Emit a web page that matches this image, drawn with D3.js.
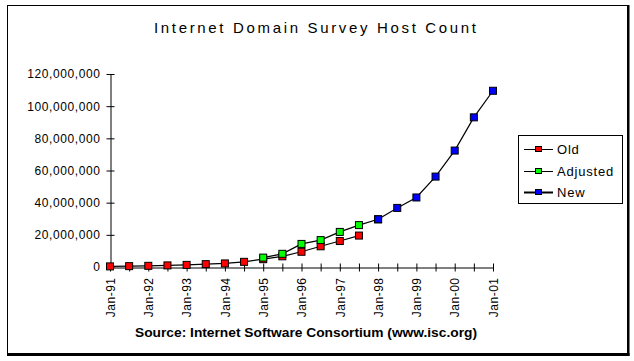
<!DOCTYPE html>
<html><head><meta charset="utf-8">
<script src="https://cdn.jsdelivr.net/npm/d3@7"></script>
<style>body{margin:0;background:#fff}svg{display:block}text{font-family:"Liberation Sans",Arial,sans-serif}</style>
</head><body><svg id="c" width="634" height="361"></svg>
<script>
const periods = ["Jan-91","Jul-91","Jan-92","Jul-92","Jan-93","Jul-93","Jan-94","Jul-94","Jan-95","Jul-95","Jan-96","Jul-96","Jan-97","Jul-97","Jan-98","Jul-98","Jan-99","Jul-99","Jan-00","Jul-00","Jan-01"];
const oldPeriods = ["Jan-91","Jul-91","Jan-92","Jul-92","Jan-93","Jul-93","Jan-94","Jul-94","Jan-95","Jul-95","Jan-96","Jul-96","Jan-97","Jul-97"];
const oldValues = [376000,535000,727000,992000,1313000,1776000,2217000,3212000,4852000,6642000,9472000,12881000,16146000,19540000];
const adjPeriods = ["Jan-95","Jul-95","Jan-96","Jul-96","Jan-97","Jul-97","Jan-98"];
const adjValues = [5846000,8200000,14352000,16729000,21819000,26053000,29670000];
const newPeriods = ["Jan-98","Jul-98","Jan-99","Jul-99","Jan-00","Jul-00","Jan-01"];
const newValues = [29670000,36739000,43230000,56218000,72398000,93047000,109574000];
const yTicks = [0,20000000,40000000,60000000,80000000,100000000,120000000];
const seriesNames = ["Old","Adjusted","New"];
const seriesColors = ["#ff0000","#00ff00","#0000ff"];
const titleText = "Internet Domain Survey Host Count";
const sourceText = "Source: Internet Software Consortium (www.isc.org)";

const svg = d3.select("#c");
// frame
svg.append("rect").attr("x",7.5).attr("y",5.5).attr("width",620).attr("height",348).attr("fill","none").attr("stroke","#000");
svg.append("line").attr("x1",628.5).attr("x2",628.5).attr("y1",5).attr("y2",356).attr("stroke","#000").attr("stroke-width",2);
svg.append("line").attr("x1",7).attr("x2",629.5).attr("y1",354.5).attr("y2",354.5).attr("stroke","#000").attr("stroke-width",3);

const x = d3.scalePoint().domain(periods).range([110,493]);
const y = d3.scaleLinear().domain([0,120000000]).range([267,74]);

svg.append("text").attr("x",154).attr("y",33).attr("textLength",322).attr("lengthAdjust","spacing")
  .attr("font-size",15).text(titleText);

// y axis
const ya = svg.append("g").attr("transform","translate(110.5,0)")
  .call(d3.axisLeft(y).tickValues(yTicks).tickSize(4).tickSizeOuter(0).tickFormat(d3.format(",")));
ya.select(".domain").attr("stroke","#000");
ya.selectAll(".tick line").attr("x1",-4).attr("x2",4).attr("stroke","#000");
ya.selectAll(".tick text").attr("x",-10).attr("font-size",12).attr("letter-spacing",0.6).attr("fill","#000").attr("font-family","Liberation Sans, Arial, sans-serif");

// x axis
const xa = svg.append("g").attr("transform","translate(0,267.5)")
  .call(d3.axisBottom(x).tickSize(4).tickSizeOuter(0).tickFormat(d => d.startsWith("Jan") ? d : ""));
xa.select(".domain").attr("stroke","#000");
xa.selectAll(".tick line").attr("y1",-4).attr("y2",4).attr("stroke","#000");
xa.selectAll(".tick text").attr("transform","rotate(-90)").attr("x",-10).attr("y",0).attr("dy","0.35em")
  .attr("text-anchor","end").attr("font-size",12).attr("letter-spacing",0.5).attr("fill","#000")
  .attr("font-family","Liberation Sans, Arial, sans-serif");

const line = d3.line().x(d => x(d[0])).y(d => y(d[1]));
const series = [
  d3.zip(oldPeriods, oldValues),
  d3.zip(adjPeriods, adjValues),
  d3.zip(newPeriods, newValues)
];
series.forEach((s,i) => {
  svg.append("path").datum(s).attr("d",line).attr("fill","none").attr("stroke","#000").attr("stroke-width",1.2);
});
series.forEach((s,i) => {
  svg.append("g").selectAll("rect").data(s).join("rect")
    .attr("x",d => x(d[0]) - 3.5).attr("y",d => y(d[1]) - 3.5)
    .attr("width",7).attr("height",7).attr("fill",seriesColors[i]).attr("stroke","#000").attr("stroke-width",1);
});

// legend
const lg = svg.append("g");
lg.append("rect").attr("x",518.5).attr("y",135.5).attr("width",104).attr("height",68).attr("fill","#fff").attr("stroke","#000");
const ly = [149,171,192];
seriesNames.forEach((n,i) => {
  lg.append("line").attr("x1",524).attr("x2",553).attr("y1",ly[i]+0.5).attr("y2",ly[i]+0.5).attr("stroke","#000").attr("stroke-width", i===2 ? 2 : 1);
  lg.append("rect").attr("x",535.5).attr("y",ly[i]-2.5).attr("width",6).attr("height",5).attr("fill",seriesColors[i]).attr("stroke","#000");
  lg.append("text").attr("x",557).attr("y",ly[i]+5).attr("font-size",13).attr("letter-spacing",0.8).text(n);
});

svg.append("text").attr("x",135).attr("y",337).attr("textLength",342).attr("lengthAdjust","spacingAndGlyphs")
  .attr("font-size",13).attr("font-weight","bold").text(sourceText);
</script></body></html>
